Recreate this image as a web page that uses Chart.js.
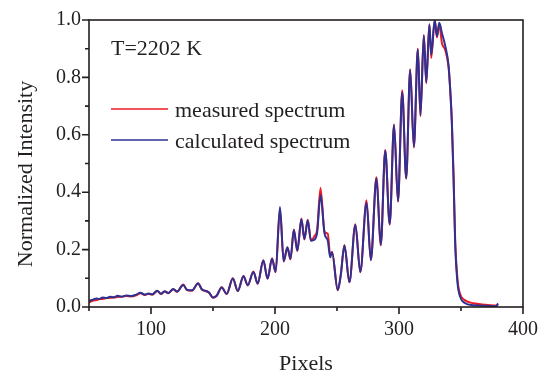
<!DOCTYPE html>
<html>
<head>
<meta charset="utf-8">
<script src="https://cdn.jsdelivr.net/npm/chart.js@4.4.0/dist/chart.umd.min.js"></script>
<style>
  html, body { margin: 0; padding: 0; background: #fff; }
  #wrap { width: 549px; height: 376px; }
</style>
</head>
<body>
<div id="wrap"><canvas id="spectrum"></canvas></div>
<script>
// detector pixel positions
const pixels = [50, 53, 56, 58, 61, 64, 67, 70, 73, 76,
    80, 84, 88, 91.5, 95, 98, 101, 105, 108, 111,
    114, 118, 121, 126, 129, 133, 138, 141, 145, 147,
    150, 153, 157, 161, 166, 170, 174.6, 178, 182.6, 186,
    190.6, 194, 197.6, 200.5, 204, 207, 210, 212.5, 215.2, 218,
    221.3, 223.7, 226.4, 229, 232, 234, 236.7, 240, 242.6, 244.5,
    246, 250.6, 253, 256, 260, 264.8, 268.8, 273.8, 277.3, 281.8,
    285.3, 288.9, 292.5, 296, 299.2, 302.6, 305.8, 309, 312, 315.2,
    317.3, 320, 322, 324.5, 326, 328.8, 330.6, 332.5, 334.6, 337.3,
    340, 341.5, 342.6, 344, 345.3, 347.2, 349.3, 353, 360, 370,
    378, 380];

const calculated = [0.022, 0.025, 0.030, 0.028, 0.033, 0.031, 0.036, 0.034, 0.039, 0.036,
    0.040, 0.038, 0.043, 0.050, 0.043, 0.047, 0.044, 0.057, 0.046, 0.055,
    0.049, 0.063, 0.054, 0.077, 0.060, 0.058, 0.082, 0.062, 0.055, 0.050,
    0.033, 0.040, 0.068, 0.046, 0.099, 0.056, 0.107, 0.076, 0.122, 0.082,
    0.162, 0.099, 0.168, 0.122, 0.348, 0.160, 0.208, 0.168, 0.268, 0.197,
    0.306, 0.237, 0.302, 0.231, 0.235, 0.260, 0.390, 0.255, 0.231, 0.173,
    0.191, 0.059, 0.110, 0.214, 0.087, 0.286, 0.122, 0.363, 0.164, 0.449,
    0.217, 0.544, 0.289, 0.633, 0.369, 0.748, 0.449, 0.826, 0.559, 0.898,
    0.668, 0.946, 0.783, 0.984, 0.880, 1.000, 0.944, 0.990, 0.955, 0.910,
    0.840, 0.740, 0.645, 0.449, 0.220, 0.083, 0.036, 0.014, 0.006, 0.004,
    0.003, 0.012];

const measured = [0.016, 0.022, 0.024, 0.027, 0.028, 0.031, 0.032, 0.033, 0.035, 0.036,
    0.038, 0.037, 0.041, 0.048, 0.042, 0.046, 0.043, 0.056, 0.045, 0.054,
    0.048, 0.062, 0.053, 0.078, 0.059, 0.057, 0.083, 0.061, 0.054, 0.049,
    0.032, 0.039, 0.069, 0.045, 0.100, 0.055, 0.108, 0.075, 0.124, 0.081,
    0.163, 0.098, 0.170, 0.121, 0.340, 0.158, 0.207, 0.166, 0.270, 0.195,
    0.308, 0.235, 0.304, 0.232, 0.248, 0.270, 0.415, 0.262, 0.255, 0.180,
    0.192, 0.058, 0.110, 0.215, 0.086, 0.288, 0.121, 0.372, 0.163, 0.452,
    0.215, 0.547, 0.287, 0.636, 0.367, 0.755, 0.447, 0.828, 0.556, 0.900,
    0.665, 0.948, 0.780, 0.985, 0.868, 1.000, 0.940, 0.985, 0.920, 0.895,
    0.835, 0.745, 0.650, 0.460, 0.235, 0.095, 0.045, 0.024, 0.013, 0.008,
    0.005, 0.004];

const seriesNames = ['measured spectrum', 'calculated spectrum'];
const seriesColors = ['#ed1c24', '#2e3192'];
const tempLabel = 'T=2202 K';
const xTitle = 'Pixels';
const yTitle = 'Normalized Intensity';

const FONT = 'Liberation Serif, Times New Roman, serif';
const INK = '#231f20';

const toPoints = (vals) => vals.map((v, i) => ({ x: pixels[i], y: v }));

// frame, outward ticks (long on labelled ones), y title, legend and temperature note
const decorations = {
    id: 'decorations',
    afterDraw(chart) {
        const { ctx, chartArea: a, scales: { x, y } } = chart;
        ctx.save();
        ctx.strokeStyle = INK;
        ctx.lineWidth = 1.6;
        ctx.strokeRect(a.left, a.top, a.right - a.left, a.bottom - a.top);

        ctx.beginPath();
        x.ticks.forEach((t) => {
            const px = x.getPixelForValue(t.value);
            const len = t.label ? 7 : 4;
            ctx.moveTo(px, a.bottom);
            ctx.lineTo(px, a.bottom + len);
        });
        y.ticks.forEach((t) => {
            const py = y.getPixelForValue(t.value);
            const len = t.label ? 7 : 4;
            ctx.moveTo(a.left - len, py);
            ctx.lineTo(a.left, py);
        });
        ctx.stroke();

        ctx.fillStyle = INK;
        ctx.font = '22px ' + FONT;
        ctx.textBaseline = 'alphabetic';

        ctx.save();
        ctx.translate(32, 174);
        ctx.rotate(-Math.PI / 2);
        ctx.textAlign = 'center';
        ctx.fillText(yTitle, 0, 0);
        ctx.restore();

        ctx.textAlign = 'left';
        ctx.fillText(tempLabel, 111, 55);

        const rows = [109, 140];
        chart.data.datasets.forEach((ds, i) => {
            ctx.strokeStyle = ds.borderColor;
            ctx.lineWidth = 1.6;
            ctx.beginPath();
            ctx.moveTo(111, rows[i]);
            ctx.lineTo(168, rows[i]);
            ctx.stroke();
            ctx.fillText(ds.label, 175, rows[i] + 8);
        });
        ctx.restore();
    }
};

const ctx = document.getElementById('spectrum').getContext('2d');
new Chart(ctx, {
    type: 'line',
    data: {
        datasets: [
            {
                label: seriesNames[0],
                data: toPoints(measured),
                borderColor: seriesColors[0],
                borderWidth: 2,
                pointRadius: 0,
                cubicInterpolationMode: 'monotone',
                order: 2,
            },
            {
                label: seriesNames[1],
                data: toPoints(calculated),
                borderColor: seriesColors[1],
                borderWidth: 2,
                pointRadius: 0,
                cubicInterpolationMode: 'monotone',
                order: 1,
            },
        ],
    },
    options: {
        responsive: true,
        maintainAspectRatio: false,
        animation: false,
        layout: { padding: { left: 0, right: 22, top: 17, bottom: 0 } },
        plugins: {
            legend: { display: false },
            tooltip: { enabled: false },
        },
        scales: {
            x: {
                type: 'linear',
                min: 50,
                max: 400,
                grid: { display: false, drawTicks: false },
                border: { display: false },
                ticks: {
                    stepSize: 50,
                    padding: 11,
                    color: INK,
                    font: { family: FONT, size: 20 },
                    maxRotation: 0,
                    callback: (v) => (v % 100 === 0 ? String(v) : ''),
                },
                title: {
                    display: true,
                    text: xTitle,
                    color: INK,
                    font: { family: FONT, size: 22, lineHeight: 1.1 },
                    padding: { top: 0, bottom: 0 },
                },
                afterFit: (scale) => { scale.height = 69; },
            },
            y: {
                min: 0,
                max: 1,
                grid: { display: false, drawTicks: false },
                border: { display: false },
                ticks: {
                    stepSize: 0.1,
                    padding: 8,
                    color: INK,
                    font: { family: FONT, size: 20 },
                    callback: (v) => (Math.round(v * 10) % 2 === 0 ? v.toFixed(1) : ''),
                },
                afterFit: (scale) => { scale.width = 89; },
            },
        },
    },
    plugins: [decorations],
});
</script>
</body>
</html>
